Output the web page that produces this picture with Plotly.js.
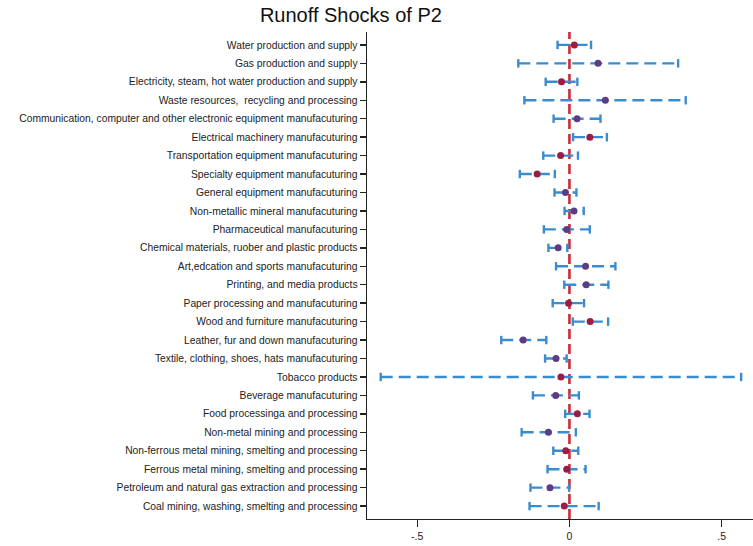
<!DOCTYPE html>
<html>
<head>
<meta charset="utf-8">
<script src="https://cdn.plot.ly/plotly-3.0.1.min.js"></script>
<style>
  html, body { margin: 0; padding: 0; background: #fff; }
  #chart { width: 753px; height: 546px; }
</style>
</head>
<body>
<div id="chart"></div>
<script>
// Industries, listed top to bottom
const industries = [
  "Water production and supply",
  "Gas production and supply",
  "Electricity, steam, hot water production and supply",
  "Waste resources,  recycling and processing",
  "Communication, computer and other electronic equipment manufacuturing",
  "Electrical machinery manufacuturing",
  "Transportation equipment manufacuturing",
  "Specialty equipment manufacuturing",
  "General equipment manufacuturing",
  "Non-metallic mineral manufacuturing",
  "Pharmaceutical manufacuturing",
  "Chemical materials, ruober and plastic products",
  "Art,edcation and sports manufacuturing",
  "Printing, and media products",
  "Paper processing and manufacuturing",
  "Wood and furniture manufacuturing",
  "Leather, fur and down manufacuturing",
  "Textile, clothing, shoes, hats manufacuturing",
  "Tobacco products",
  "Beverage manufacuturing",
  "Food processinga and processing",
  "Non-metal mining and processing",
  "Non-ferrous metal mining, smelting and processing",
  "Ferrous metal mining, smelting and processing",
  "Petroleum and natural gas extraction and processing",
  "Coal mining, washing, smelting and processing"
];

// Point estimates
const estimate = [
  0.016, 0.094, -0.026, 0.118, 0.025, 0.067, -0.029, -0.106, -0.013,
  0.015, -0.009, -0.037, 0.053, 0.055, -0.003, 0.068, -0.152, -0.044,
  -0.028, -0.045, 0.026, -0.069, -0.012, -0.009, -0.064, -0.017
];

// Confidence interval bounds
const lower = [
  -0.039, -0.168, -0.078, -0.148, -0.052, 0.012, -0.086, -0.163, -0.049,
  -0.016, -0.084, -0.069, -0.044, -0.017, -0.055, 0.011, -0.224, -0.080,
  -0.620, -0.120, -0.014, -0.157, -0.053, -0.072, -0.128, -0.131
];
const upper = [
  0.071, 0.357, 0.026, 0.382, 0.102, 0.123, 0.028, -0.048, 0.023,
  0.047, 0.067, -0.007, 0.151, 0.128, 0.048, 0.127, -0.076, -0.009,
  0.564, 0.031, 0.066, 0.021, 0.029, 0.053, -0.001, 0.096
];

// Marker group per industry (r = red, p = purple)
const group = [
  "r", "p", "r", "p", "p", "r", "r", "r", "p",
  "p", "p", "p", "p", "p", "r", "r", "p", "p",
  "r", "p", "r", "p", "r", "r", "p", "r"
];

// Axis ticks
const xTickVals = [-0.5, 0, 0.5];
const xTickText = ["-.5", "0", ".5"];

const BLUE = "#3a8ccf";
const RED_PT = "#9c1c48";
const PURPLE_PT = "#5e3c84";
const REF_RED = "#cc2c38";
const FONT = "Liberation Sans, Arial, Helvetica, sans-serif";

const traces = [];

// Dashed interval line with end caps for each industry
industries.forEach((name, i) => {
  traces.push({
    type: "scatter",
    mode: "lines+markers",
    x: [lower[i], upper[i]],
    y: [name, name],
    line: { color: BLUE, width: 2.4, dash: "12px,6px" },
    marker: { symbol: "line-ns", size: 6, line: { color: BLUE, width: 2.4 } },
    hoverinfo: "skip",
    showlegend: false,
    cliponaxis: false
  });
});

// Point estimates
traces.push({
  type: "scatter",
  mode: "markers",
  x: estimate,
  y: industries,
  marker: {
    size: 7,
    color: group.map(g => g === "r" ? RED_PT : PURPLE_PT)
  },
  showlegend: false
});

const layout = {
  width: 753,
  height: 546,
  margin: { l: 367, r: 0, t: 32, b: 27 },
  paper_bgcolor: "#ffffff",
  plot_bgcolor: "#ffffff",
  font: { family: FONT, color: "#222" },
  title: {
    text: "Runoff Shocks of P2",
    font: { family: FONT, size: 20, color: "#111" },
    xref: "container",
    x: 0.466,
    xanchor: "center",
    yref: "container",
    y: 0.972,
    yanchor: "middle"
  },
  xaxis: {
    range: [-0.665, 0.603],
    tickvals: xTickVals,
    ticktext: xTickText,
    ticks: "outside",
    ticklen: 7,
    tickwidth: 1.4,
    tickcolor: "#222",
    tickfont: { family: FONT, size: 10.5, color: "#222" },
    showline: true,
    linecolor: "#222",
    linewidth: 1.4,
    showgrid: false,
    zeroline: false,
    fixedrange: true
  },
  yaxis: {
    type: "category",
    categoryorder: "array",
    categoryarray: industries.slice().reverse(),
    range: [-0.7, industries.length - 0.3],
    ticks: "outside",
    ticklen: 6,
    tickwidth: 1.4,
    tickcolor: "#222",
    tickfont: { family: FONT, size: 10.3, color: "#222" },
    showline: true,
    linecolor: "#222",
    linewidth: 1.4,
    showgrid: false,
    zeroline: false,
    fixedrange: true
  },
  shapes: [{
    type: "line",
    layer: "below",
    xref: "x",
    yref: "paper",
    x0: 0, x1: 0, y0: 0, y1: 1,
    line: { color: REF_RED, width: 2.6, dash: "10px,5px" }
  }]
};

Plotly.newPlot("chart", traces, layout, { displayModeBar: false, staticPlot: true });
</script>
</body>
</html>
